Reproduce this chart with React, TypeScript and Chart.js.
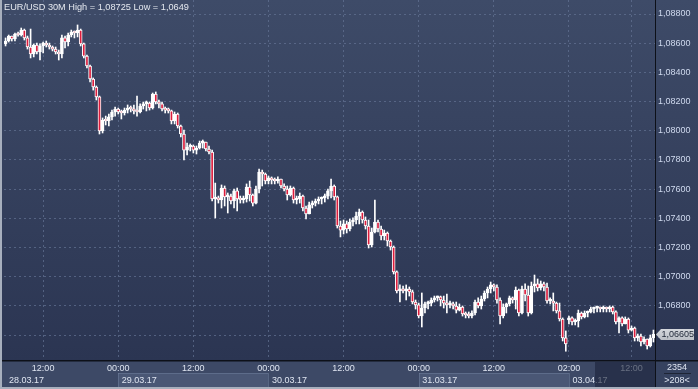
import React, { useEffect, useRef } from 'react';
import { Chart, registerables } from 'chart.js';

Chart.register(...registerables);

// ---- chart values ----
const titleText = 'EUR/USD 30M High = 1,08725 Low = 1,0649';
const lastPrice = 1.06605;
const totalBars = '2354';
const visibleBars = '>208<';

const firstOpen = 1.08595;
const gapOpenIndex = 180;
const gapOpen = 1.06704;

const high = [
  1.08636, 1.08656, 1.08649, 1.08670, 1.08677, 1.08704, 1.08697, 1.08649, 1.08697, 1.08595,
  1.08601, 1.08595, 1.08608, 1.08615, 1.08601, 1.08581, 1.08574, 1.08553, 1.08656, 1.08649,
  1.08670, 1.08690, 1.08684, 1.08725, 1.08697, 1.08601, 1.08519, 1.08451, 1.08362, 1.08307,
  1.08238, 1.08088, 1.08101, 1.08115, 1.08142, 1.08163, 1.08156, 1.08142, 1.08156, 1.08177,
  1.08170, 1.08177, 1.08238, 1.08184, 1.08197, 1.08204, 1.08197, 1.08259, 1.08266, 1.08211,
  1.08197, 1.08163, 1.08156, 1.08142, 1.08129, 1.08122, 1.08040, 1.08005, 1.07916, 1.07910,
  1.07903, 1.07896, 1.07930, 1.07937, 1.07923, 1.07896, 1.07868, 1.07642, 1.07553, 1.07629,
  1.07622, 1.07574, 1.07567, 1.07601, 1.07608, 1.07553, 1.07553, 1.07636, 1.07656, 1.07567,
  1.07622, 1.07738, 1.07731, 1.07711, 1.07690, 1.07684, 1.07677, 1.07684, 1.07670, 1.07636,
  1.07622, 1.07622, 1.07615, 1.07553, 1.07574, 1.07560, 1.07485, 1.07512, 1.07519, 1.07533,
  1.07547, 1.07547, 1.07567, 1.07601, 1.07670, 1.07629, 1.07553, 1.07382, 1.07389, 1.07382,
  1.07396, 1.07403, 1.07444, 1.07464, 1.07451, 1.07410, 1.07389, 1.07334, 1.07526, 1.07389,
  1.07348, 1.07320, 1.07307, 1.07252, 1.07211, 1.07040, 1.06944, 1.06937, 1.06944, 1.06930,
  1.06909, 1.06841, 1.06820, 1.06889, 1.06827, 1.06834, 1.06855, 1.06868, 1.06868, 1.06868,
  1.06868, 1.06882, 1.06834, 1.06827, 1.06827, 1.06814, 1.06800, 1.06759, 1.06759, 1.06766,
  1.06841, 1.06855, 1.06868, 1.06903, 1.06930, 1.06964, 1.06951, 1.06944, 1.06855, 1.06814,
  1.06820, 1.06868, 1.06862, 1.06930, 1.06916, 1.06937, 1.06951, 1.06937, 1.06964, 1.07012,
  1.06985, 1.06971, 1.06964, 1.06957, 1.06855, 1.06889, 1.06827, 1.06820, 1.06718, 1.06629,
  1.06731, 1.06725, 1.06711, 1.06772, 1.06759, 1.06766, 1.06766, 1.06793, 1.06793, 1.06800,
  1.06793, 1.06800, 1.06793, 1.06800, 1.06800, 1.06766, 1.06725, 1.06725, 1.06725, 1.06718,
  1.06663, 1.06656, 1.06608, 1.06608, 1.06588, 1.06574, 1.06601, 1.06635,
];

const low = [
  1.08581, 1.08608, 1.08615, 1.08615, 1.08649, 1.08649, 1.08622, 1.08560, 1.08499, 1.08506,
  1.08526, 1.08485, 1.08533, 1.08574, 1.08560, 1.08547, 1.08526, 1.08485, 1.08499, 1.08567,
  1.08581, 1.08643, 1.08636, 1.08643, 1.08581, 1.08499, 1.08430, 1.08334, 1.08279, 1.08211,
  1.07978, 1.07985, 1.08040, 1.08033, 1.08074, 1.08101, 1.08115, 1.08081, 1.08108, 1.08122,
  1.08129, 1.08115, 1.08101, 1.08122, 1.08149, 1.08136, 1.08142, 1.08149, 1.08184, 1.08156,
  1.08136, 1.08122, 1.08122, 1.08047, 1.08047, 1.08019, 1.07958, 1.07800, 1.07834, 1.07862,
  1.07848, 1.07841, 1.07875, 1.07882, 1.07862, 1.07841, 1.07519, 1.07403, 1.07505, 1.07471,
  1.07485, 1.07437, 1.07499, 1.07471, 1.07451, 1.07505, 1.07505, 1.07512, 1.07519, 1.07485,
  1.07499, 1.07574, 1.07622, 1.07636, 1.07636, 1.07636, 1.07636, 1.07642, 1.07608, 1.07588,
  1.07526, 1.07553, 1.07505, 1.07499, 1.07505, 1.07451, 1.07396, 1.07430, 1.07471, 1.07485,
  1.07499, 1.07499, 1.07512, 1.07533, 1.07540, 1.07526, 1.07334, 1.07273, 1.07293, 1.07300,
  1.07314, 1.07348, 1.07362, 1.07362, 1.07368, 1.07327, 1.07197, 1.07204, 1.07300, 1.07307,
  1.07252, 1.07252, 1.07211, 1.07183, 1.07019, 1.06889, 1.06827, 1.06889, 1.06841, 1.06868,
  1.06814, 1.06779, 1.06718, 1.06656, 1.06752, 1.06779, 1.06800, 1.06827, 1.06834, 1.06800,
  1.06786, 1.06752, 1.06786, 1.06779, 1.06752, 1.06766, 1.06731, 1.06718, 1.06718, 1.06718,
  1.06738, 1.06786, 1.06779, 1.06834, 1.06855, 1.06889, 1.06903, 1.06820, 1.06677, 1.06718,
  1.06752, 1.06800, 1.06820, 1.06779, 1.06731, 1.06745, 1.06834, 1.06731, 1.06745, 1.06896,
  1.06903, 1.06909, 1.06903, 1.06820, 1.06814, 1.06766, 1.06752, 1.06697, 1.06560, 1.06490,
  1.06677, 1.06670, 1.06670, 1.06656, 1.06711, 1.06718, 1.06725, 1.06752, 1.06752, 1.06759,
  1.06759, 1.06759, 1.06759, 1.06759, 1.06745, 1.06677, 1.06615, 1.06663, 1.06677, 1.06615,
  1.06629, 1.06560, 1.06560, 1.06526, 1.06540, 1.06505, 1.06519, 1.06553,
];

const close = [
  1.08615, 1.08649, 1.08629, 1.08663, 1.08656, 1.08690, 1.08636, 1.08574, 1.08526, 1.08588,
  1.08540, 1.08581, 1.08601, 1.08588, 1.08574, 1.08560, 1.08540, 1.08526, 1.08636, 1.08608,
  1.08656, 1.08677, 1.08670, 1.08690, 1.08595, 1.08512, 1.08444, 1.08355, 1.08300, 1.08232,
  1.07999, 1.08074, 1.08067, 1.08095, 1.08129, 1.08149, 1.08129, 1.08122, 1.08142, 1.08156,
  1.08149, 1.08136, 1.08129, 1.08170, 1.08184, 1.08190, 1.08156, 1.08252, 1.08197, 1.08184,
  1.08149, 1.08142, 1.08136, 1.08067, 1.08115, 1.08033, 1.07978, 1.07868, 1.07889, 1.07896,
  1.07868, 1.07882, 1.07916, 1.07923, 1.07875, 1.07855, 1.07533, 1.07540, 1.07526, 1.07608,
  1.07547, 1.07553, 1.07519, 1.07588, 1.07533, 1.07526, 1.07533, 1.07615, 1.07560, 1.07505,
  1.07601, 1.07718, 1.07704, 1.07656, 1.07677, 1.07663, 1.07656, 1.07670, 1.07622, 1.07601,
  1.07560, 1.07608, 1.07526, 1.07533, 1.07553, 1.07471, 1.07430, 1.07492, 1.07505, 1.07519,
  1.07533, 1.07540, 1.07553, 1.07588, 1.07622, 1.07547, 1.07348, 1.07320, 1.07362, 1.07327,
  1.07375, 1.07389, 1.07416, 1.07444, 1.07389, 1.07348, 1.07218, 1.07307, 1.07375, 1.07327,
  1.07279, 1.07300, 1.07245, 1.07204, 1.07033, 1.06903, 1.06916, 1.06903, 1.06916, 1.06896,
  1.06827, 1.06807, 1.06731, 1.06786, 1.06814, 1.06820, 1.06841, 1.06855, 1.06862, 1.06841,
  1.06820, 1.06807, 1.06814, 1.06800, 1.06772, 1.06793, 1.06745, 1.06738, 1.06731, 1.06752,
  1.06827, 1.06800, 1.06848, 1.06889, 1.06916, 1.06944, 1.06930, 1.06841, 1.06731, 1.06793,
  1.06814, 1.06855, 1.06841, 1.06909, 1.06752, 1.06916, 1.06875, 1.06752, 1.06937, 1.06951,
  1.06923, 1.06951, 1.06930, 1.06834, 1.06834, 1.06820, 1.06766, 1.06711, 1.06581, 1.06540,
  1.06718, 1.06690, 1.06697, 1.06752, 1.06725, 1.06752, 1.06759, 1.06779, 1.06786, 1.06786,
  1.06779, 1.06786, 1.06779, 1.06793, 1.06759, 1.06690, 1.06718, 1.06677, 1.06711, 1.06635,
  1.06649, 1.06581, 1.06594, 1.06553, 1.06574, 1.06526, 1.06581, 1.06605,
];

// time axis
const xTickIndex = [12, 36, 60, 84, 108, 132, 156, 180, 200];
const xTickText = ['12:00', '00:00', '12:00', '00:00', '12:00', '00:00', '12:00', '02:00', '12:00'];
const dateIndex = [0, 36, 84, 132, 180];
const dateText = ['28.03.17', '29.03.17', '30.03.17', '31.03.17', '03.04.17'];
const shadedDates = [1, 3];

// price axis
const yMin = 1.06423;
const yMax = 1.08896;
const yStep = 0.002;

const FONT = '"Liberation Sans", Arial, sans-serif';

export default function App() {
  const ref = useRef<HTMLCanvasElement | null>(null);

  useEffect(() => {
    document.body.style.margin = '0';
    const canvas = ref.current;
    if (!canvas) return;

    const open = close.map((c, i) =>
      i === 0 ? firstOpen : i === gapOpenIndex ? gapOpen : close[i - 1]
    );
    const labels = close.map((_, i) => String(i));
    const bodies = close.map((c, i) => [Math.min(open[i], c), Math.max(open[i], c)]);
    const bodyColors = close.map((c, i) => (c >= open[i] ? '#ffffff' : '#dc1d3d'));
    const wicks = close.map((_, i) => [low[i], high[i]]);

    const gridColor = 'rgba(100,116,148,0.7)';

    const bgPlugin = {
      id: 'bg',
      beforeDraw(chart: any) {
        const ctx = chart.ctx;
        const W = chart.width;
        const H = chart.height;
        const ca = chart.chartArea;
        ctx.save();
        const g = ctx.createLinearGradient(0, 0, 0, ca.bottom);
        g.addColorStop(0, '#3e4b68');
        g.addColorStop(1, '#2b3552');
        ctx.fillStyle = g;
        ctx.fillRect(0, 0, W, ca.bottom);
        // bottom band
        ctx.fillStyle = '#3d4966';
        ctx.fillRect(0, ca.bottom, W, H - ca.bottom);
        // shaded date boxes
        const xs = chart.scales.x;
        shadedDates.forEach((d) => {
          const x0 = Math.round(xs.getPixelForValue(dateIndex[d]));
          const x1 = Math.round(
            d + 1 < dateIndex.length ? xs.getPixelForValue(dateIndex[d + 1]) : ca.right
          );
          ctx.fillStyle = '#4a5775';
          ctx.fillRect(x0, 373, x1 - x0, 14);
          ctx.fillStyle = 'rgba(110,125,155,0.55)';
          ctx.fillRect(x0, 373, x1 - x0, 1);
          ctx.fillRect(x0, 373, 1, 14);
          ctx.fillRect(x1, 373, 1, 14);
        });
        // bottom-right box
        ctx.fillStyle = '#36425f';
        ctx.fillRect(ca.right, ca.bottom, W - ca.right, H - ca.bottom);
        ctx.restore();
      },
      afterDraw(chart: any) {
        const ctx = chart.ctx;
        const W = chart.width;
        const H = chart.height;
        const ca = chart.chartArea;
        const xs = chart.scales.x;
        const ys = chart.scales.y;
        ctx.save();
        // date labels
        ctx.font = `9px ${FONT}`;
        ctx.textBaseline = 'middle';
        ctx.textAlign = 'left';
        ctx.fillStyle = '#dfe5f1';
        dateText.forEach((t, i) => {
          const x = xs.getPixelForValue(dateIndex[i]);
          ctx.fillText(t, x + 3.5, 380.5);
        });
        // dark overlay (scroll window)
        ctx.fillStyle = 'rgba(28,36,58,0.62)';
        ctx.fillRect(595, ca.bottom + 1, ca.right - 595, H - ca.bottom - 3);
        // separators
        ctx.fillStyle = '#0d1018';
        ctx.fillRect(0, ca.bottom - 1, W, 1.5);
        ctx.fillRect(ca.right, 0, 1, H);
        // borders
        ctx.fillStyle = '#a7afbd';
        ctx.fillRect(0, 0, 2, H);
        ctx.fillRect(0, H - 2, W, 2);
        // bottom-right counter box
        ctx.fillStyle = '#dfe5f1';
        ctx.textAlign = 'center';
        ctx.fillText(totalBars, 677, 367.5);
        ctx.fillText(visibleBars, 677, 380.5);
        ctx.fillStyle = '#1e2536';
        ctx.fillRect(664, 373, 27, 1);
        // price tag
        const py = Math.round(ys.getPixelForValue(lastPrice)) + 0.5;
        ctx.beginPath();
        ctx.moveTo(656, py);
        ctx.lineTo(661, py - 5.5);
        ctx.lineTo(694, py - 5.5);
        ctx.lineTo(694, py + 5.5);
        ctx.lineTo(661, py + 5.5);
        ctx.closePath();
        const tg = ctx.createLinearGradient(0, py - 6, 0, py + 6);
        tg.addColorStop(0, '#d6d9de');
        tg.addColorStop(1, '#b9bdc4');
        ctx.fillStyle = tg;
        ctx.fill();
        ctx.fillStyle = '#222a3a';
        ctx.textAlign = 'left';
        ctx.fillText(lastPrice.toFixed(5).replace('.', ','), 661.5, py + 0.5);
        // title
        ctx.fillStyle = '#e4e8ef';
        ctx.font = `9.2px ${FONT}`;
        ctx.textBaseline = 'top';
        ctx.fillText(titleText, 4, 3);
        ctx.restore();
      },
    };

    const chart = new Chart(canvas, {
      type: 'bar',
      data: {
        labels,
        datasets: [
          {
            label: 'body',
            data: bodies as any,
            backgroundColor: bodyColors,
            borderColor: '#ffffff',
            borderWidth: 1,
            borderSkipped: false,
            barThickness: 3,
            minBarLength: 2,
            grouped: false,
            order: 0,
          } as any,
          {
            label: 'wick',
            data: wicks as any,
            backgroundColor: '#ffffff',
            borderWidth: 0,
            barThickness: 1,
            grouped: false,
            order: 1,
          } as any,
        ],
      },
      options: {
        responsive: false,
        devicePixelRatio: 1,
        animation: false,
        events: [],
        layout: { padding: { left: 4, right: 0, top: 0, bottom: 0 } },
        plugins: { legend: { display: false }, tooltip: { enabled: false } },
        scales: {
          x: {
            type: 'category',
            offset: true,
            grid: {
              offset: false,
              drawTicks: false,
              color: (c: any) => (xTickIndex.includes(c.index) ? gridColor : 'rgba(0,0,0,0)'),
            },
            border: { display: false, dash: [2, 3] },
            ticks: {
              autoSkip: false,
              maxRotation: 0,
              minRotation: 0,
              padding: 2,
              color: '#dfe5f1',
              font: { family: FONT, size: 9 },
              callback: (_v: any, i: number) => {
                const k = xTickIndex.indexOf(i);
                return k >= 0 ? xTickText[k] : '';
              },
            },
            afterFit: (s: any) => {
              s.height = 28;
              s.paddingLeft = 0;
              s.paddingRight = 0;
            },
          },
          y: {
            position: 'right',
            min: yMin,
            max: yMax,
            grid: { color: gridColor, drawTicks: false },
            border: { display: false, dash: [2, 3] },
            ticks: {
              stepSize: yStep,
              includeBounds: false,
              maxTicksLimit: 30,
              padding: 3,
              color: '#cfd9ee',
              font: { family: FONT, size: 9 },
              callback: (v: any) => Number(v).toFixed(5).replace('.', ','),
            },
            afterFit: (s: any) => {
              s.width = 43;
              s.paddingTop = 0;
              s.paddingBottom = 0;
            },
          },
        },
      } as any,
      plugins: [bgPlugin],
    });

    return () => chart.destroy();
  }, []);

  return <canvas ref={ref} width={698} height={389} style={{ display: 'block' }} />;
}
